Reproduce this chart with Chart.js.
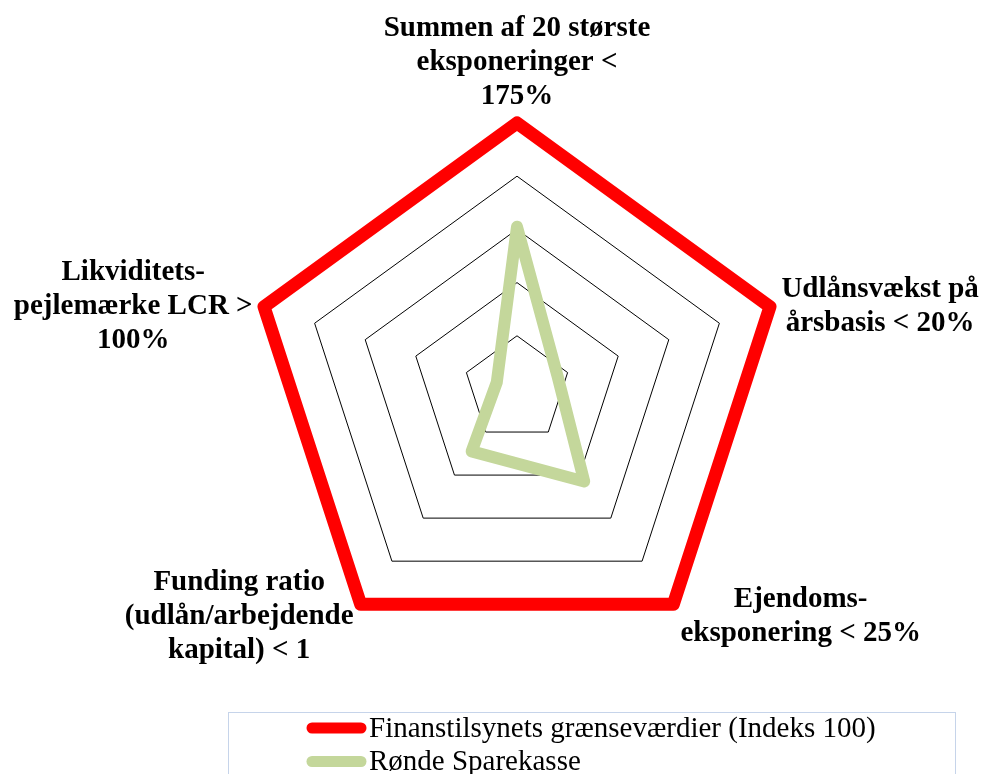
<!DOCTYPE html>
<html>
<head>
<meta charset="utf-8">
<script src="https://cdn.jsdelivr.net/npm/chart.js@4.4.1/dist/chart.umd.min.js"></script>
<style>
  html, body { margin: 0; padding: 0; background: #fff; }
</style>
</head>
<body>
<canvas id="radarChart" width="981" height="774"></canvas>
<script>
// Data
const axisLabels = [
    ['Summen af 20 største', 'eksponeringer <', '175%'],
    ['Udlånsvækst på', 'årsbasis < 20%'],
    ['Ejendoms-', 'eksponering < 25%'],
    ['Funding ratio', '(udlån/arbejdende', 'kapital) < 1'],
    ['Likviditets-', 'pejlemærke LCR >', '100%']
];
const limitValues = [100, 100, 100, 100, 100];
const rondeValues = [61, 16, 43, 29, 8];
const seriesNames = ['Finanstilsynets grænseværdier (Indeks 100)', 'Rønde Sparekasse'];
const seriesColors = ['#ff0000', '#c4d79b'];

const serif = '"Liberation Serif", "Times New Roman", serif';

// Axis titles placed around the web, like Excel does it
const axisTitles = {
    id: 'axisTitles',
    afterDraw(chart) {
        const r = chart.scales.r;
        const ctx = chart.ctx;
        const lh = 34;
        ctx.save();
        ctx.font = 'bold 29px ' + serif;
        ctx.fillStyle = '#000';
        ctx.textBaseline = 'middle';
        ctx.textAlign = 'center';
        chart.data.labels.forEach((lines, i) => {
            const p = r.getPointPosition(i, r.drawingArea + 12);
            const w = Math.max(...lines.map(l => ctx.measureText(l).width));
            const h = lines.length * lh;
            let cx = p.x;
            let top = p.y - h / 2 + 3;
            if (i === 0) top = p.y - h + 3;
            else if (p.x > r.xCenter + 1) cx = p.x + w / 2;
            else if (p.x < r.xCenter - 1) cx = p.x - w / 2;
            lines.forEach((l, j) => ctx.fillText(l, cx, top + lh * (j + 0.5)));
        });
        ctx.restore();
    }
};

// Boxed legend with one row per series
const boxLegend = {
    id: 'boxLegend',
    afterDraw(chart) {
        const ctx = chart.ctx;
        ctx.save();
        ctx.strokeStyle = '#c6d4ea';
        ctx.lineWidth = 1;
        ctx.strokeRect(228.5, 712.5, 727, 90);
        ctx.font = '29px ' + serif;
        ctx.fillStyle = '#000';
        ctx.textBaseline = 'middle';
        ctx.textAlign = 'left';
        chart.data.datasets.forEach((ds, i) => {
            const y = 728 + i * 33.5;
            ctx.strokeStyle = ds.borderColor;
            ctx.lineWidth = 11;
            ctx.lineCap = 'round';
            ctx.beginPath();
            ctx.moveTo(312, y);
            ctx.lineTo(361, y);
            ctx.stroke();
            ctx.fillText(ds.label, 369, y + 1);
        });
        ctx.restore();
    }
};

new Chart(document.getElementById('radarChart'), {
    type: 'radar',
    data: {
        labels: axisLabels,
        datasets: [
            {
                label: seriesNames[0],
                data: limitValues,
                borderColor: seriesColors[0],
                backgroundColor: 'transparent',
                borderWidth: 13,
                borderJoinStyle: 'round',
                pointRadius: 0,
                fill: false,
                clip: false
            },
            {
                label: seriesNames[1],
                data: rondeValues,
                borderColor: seriesColors[1],
                backgroundColor: 'transparent',
                borderWidth: 12,
                borderJoinStyle: 'round',
                pointRadius: 0,
                fill: false,
                clip: false
            }
        ]
    },
    options: {
        responsive: false,
        animation: false,
        layout: { padding: { top: 123, bottom: 119, left: 251, right: 198 } },
        scales: {
            r: {
                min: 0,
                max: 100,
                ticks: { display: false, stepSize: 20 },
                grid: { color: '#000', lineWidth: 1 },
                angleLines: { display: false },
                pointLabels: { display: false }
            }
        },
        plugins: {
            legend: { display: false },
            tooltip: { enabled: false }
        }
    },
    plugins: [axisTitles, boxLegend]
});
</script>
</body>
</html>
